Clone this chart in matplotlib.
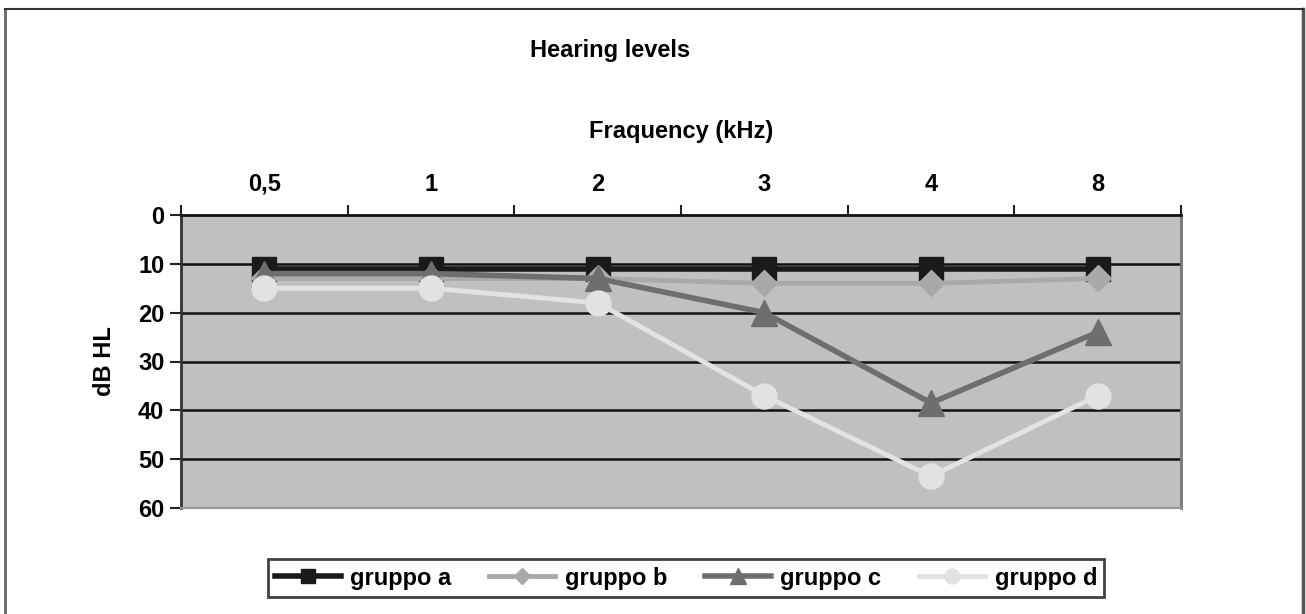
import matplotlib
matplotlib.use("Agg")
import matplotlib.pyplot as plt
from matplotlib.lines import Line2D

# Data
frequencies = ["0,5", "1", "2", "3", "4", "8"]
gruppo_a = [11, 11, 11, 11, 11, 11]
gruppo_b = [13, 13, 13, 14, 14, 13]
gruppo_c = [12, 12, 13, 20, 38.5, 24]
gruppo_d = [15, 15, 18, 37, 53.5, 37]
y_ticks = [0, 10, 20, 30, 40, 50, 60]

plt.rcParams["font.family"] = ["Liberation Sans", "DejaVu Sans"]
plt.rcParams["font.weight"] = "bold"
FS = 17

fig = plt.figure(figsize=(13.06, 6.14), dpi=100)
fig.patch.set_facecolor("white")

# outer frame (top, left, right)
fig.add_artist(Line2D([5 / 1306, 5 / 1306], [0, 1 - 9 / 614], transform=fig.transFigure,
                      color="#666666", lw=2))
fig.add_artist(Line2D([1303 / 1306, 1303 / 1306], [0, 1 - 9 / 614], transform=fig.transFigure,
                      color="#555555", lw=2.5))
fig.add_artist(Line2D([5 / 1306, 1303 / 1306], [1 - 9 / 614, 1 - 9 / 614], transform=fig.transFigure,
                      color="#333333", lw=1.5))

ax = fig.add_axes([181 / 1306, 1 - 508 / 614, 1000 / 1306, 293 / 614])
ax.set_facecolor("#c0c0c0")

x = list(range(len(frequencies)))
ax.plot(x, gruppo_a, color="#1a1a1a", lw=4, marker="s", ms=17, label="gruppo a", zorder=3)
ax.plot(x, gruppo_b, color="#a9a9a9", lw=3.5, marker="D", ms=13, label="gruppo b", zorder=4)
ax.plot(x, gruppo_c, color="#6e6e6e", lw=4, marker="^", ms=19, label="gruppo c", zorder=5)
ax.plot(x, gruppo_d, color="#e2e2e2", lw=3.5, marker="o", ms=18, label="gruppo d", zorder=6)

ax.set_xlim(-0.5, len(frequencies) - 0.5)
ax.set_ylim(60, 0)
ax.set_yticks(y_ticks)
ax.set_yticklabels([str(v) for v in y_ticks], fontsize=FS, fontweight="bold")
for v in y_ticks[1:-1]:
    ax.axhline(v, color="#111111", lw=1.8, zorder=1)

ax.xaxis.tick_top()
ax.set_xticks(x)
ax.set_xticklabels(frequencies, fontsize=FS, fontweight="bold")
ax.set_xticks([i - 0.5 for i in range(len(frequencies) + 1)], minor=True)
ax.tick_params(axis="x", which="major", length=0, pad=14)
ax.tick_params(axis="x", which="minor", length=7, width=1.5, direction="out", color="#222222")
ax.tick_params(axis="y", length=8, width=1.5, direction="out", color="#222222", pad=4)

ax.spines["top"].set_color("#111111")
ax.spines["top"].set_linewidth(2)
ax.spines["left"].set_color("#333333")
ax.spines["left"].set_linewidth(2)
ax.spines["right"].set_color("#777777")
ax.spines["right"].set_linewidth(2)
ax.spines["bottom"].set_color("#999999")
ax.spines["bottom"].set_linewidth(1.5)

ax.set_ylabel("dB HL", fontsize=FS, fontweight="bold", labelpad=16)
ax.set_xlabel("Fraquency (kHz)", fontsize=FS, fontweight="bold", labelpad=25)
ax.xaxis.set_label_position("top")

fig.text(610 / 1306, 1 - 50 / 614, "Hearing levels", fontsize=FS, fontweight="bold",
         ha="center", va="center")

leg = ax.legend(loc="center", bbox_to_anchor=(686 / 1306, 1 - 578 / 614),
                bbox_transform=fig.transFigure, ncol=4, fontsize=FS, frameon=True,
                fancybox=False, shadow=False, handlelength=2.8, columnspacing=1.6,
                handletextpad=0.4, borderpad=0.3, markerscale=0.6)
leg.get_frame().set_edgecolor("#111111")
leg.get_frame().set_linewidth(2)
for t in leg.get_texts():
    t.set_fontweight("bold")

fig.savefig("out.png", dpi=100, facecolor="white")
